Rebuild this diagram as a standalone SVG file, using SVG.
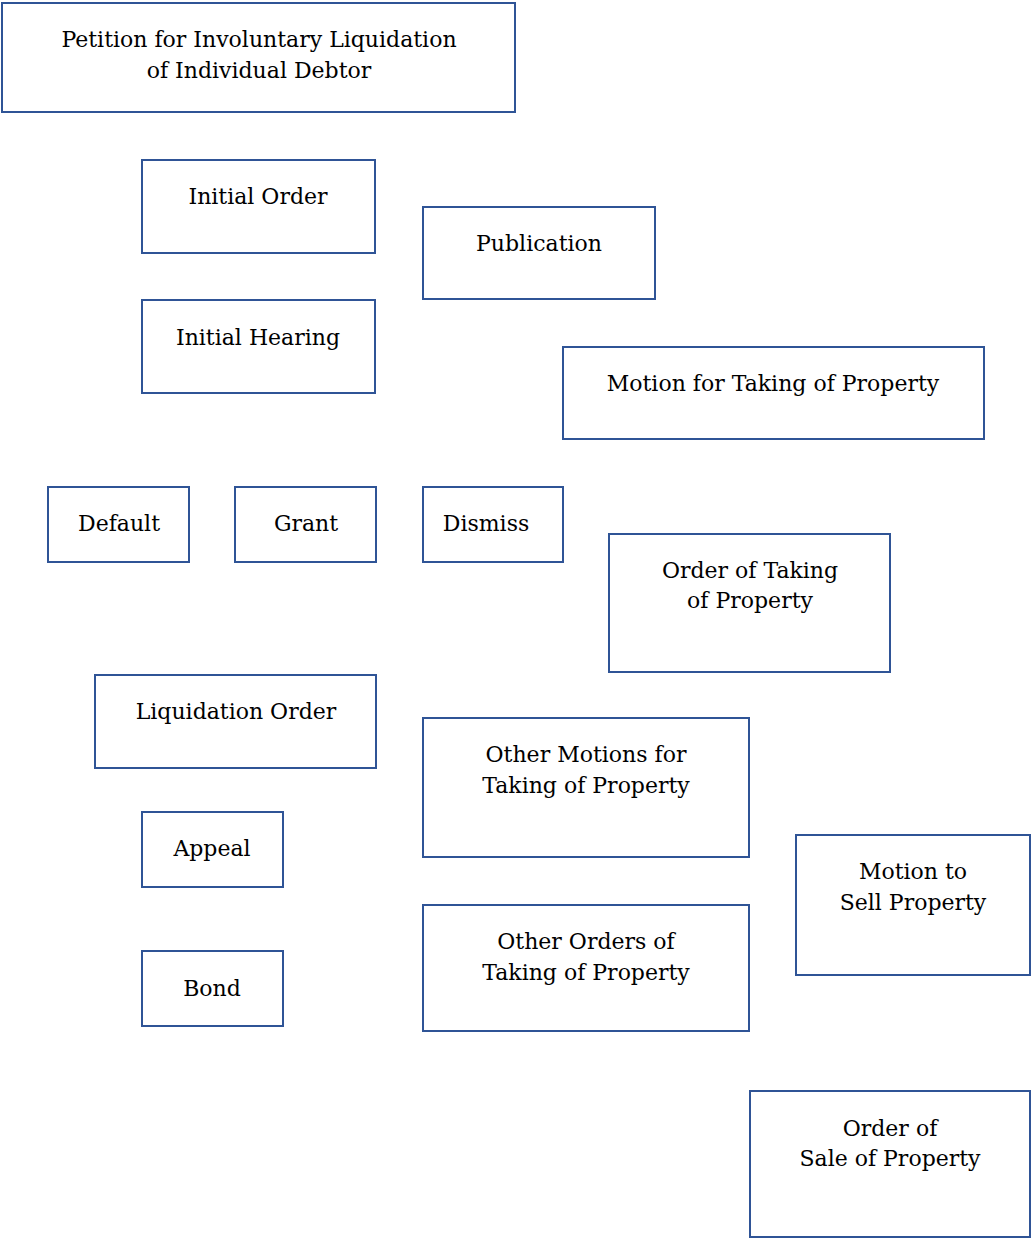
<svg xmlns="http://www.w3.org/2000/svg" width="1031" height="1239" viewBox="0 0 1031 1239">
  <style>
    .box { fill: #ffffff; stroke: #2f5496; stroke-width: 2; }
    .lbl { font-family: "DejaVu Serif", "Liberation Serif", serif; font-size: 22px; fill: #000000; text-anchor: middle; }
  </style>
  <rect width="1031" height="1239" fill="#ffffff"/>
  <g id="connectors"/>
  <g id="petition">
    <rect class="box" x="2" y="3" width="513" height="109"/>
    <text class="lbl" x="259" y="47">Petition for Involuntary Liquidation</text>
    <text class="lbl" x="259" y="78">of Individual Debtor</text>
  </g>
  <g id="initial-order">
    <rect class="box" x="142" y="160" width="233" height="93"/>
    <text class="lbl" x="258" y="204">Initial Order</text>
  </g>
  <g id="publication">
    <rect class="box" x="423" y="207" width="232" height="92"/>
    <text class="lbl" x="539" y="251">Publication</text>
  </g>
  <g id="initial-hearing">
    <rect class="box" x="142" y="300" width="233" height="93"/>
    <text class="lbl" x="258" y="345">Initial Hearing</text>
  </g>
  <g id="motion-taking">
    <rect class="box" x="563" y="347" width="421" height="92"/>
    <text class="lbl" x="773" y="391">Motion for Taking of Property</text>
  </g>
  <g id="default">
    <rect class="box" x="48" y="487" width="141" height="75"/>
    <text class="lbl" x="119" y="531">Default</text>
  </g>
  <g id="grant">
    <rect class="box" x="235" y="487" width="141" height="75"/>
    <text class="lbl" x="306" y="531">Grant</text>
  </g>
  <g id="dismiss">
    <rect class="box" x="423" y="487" width="140" height="75"/>
    <text class="lbl" x="486" y="531">Dismiss</text>
  </g>
  <g id="order-taking">
    <rect class="box" x="609" y="534" width="281" height="138"/>
    <text class="lbl" x="750" y="578">Order of Taking</text>
    <text class="lbl" x="750" y="608">of Property</text>
  </g>
  <g id="liquidation-order">
    <rect class="box" x="95" y="675" width="281" height="93"/>
    <text class="lbl" x="236" y="719">Liquidation Order</text>
  </g>
  <g id="other-motions">
    <rect class="box" x="423" y="718" width="326" height="139"/>
    <text class="lbl" x="586" y="762">Other Motions for</text>
    <text class="lbl" x="586" y="793">Taking of Property</text>
  </g>
  <g id="appeal">
    <rect class="box" x="142" y="812" width="141" height="75"/>
    <text class="lbl" x="212" y="856">Appeal</text>
  </g>
  <g id="motion-sell">
    <rect class="box" x="796" y="835" width="234" height="140"/>
    <text class="lbl" x="913" y="879">Motion to</text>
    <text class="lbl" x="913" y="910">Sell Property</text>
  </g>
  <g id="bond">
    <rect class="box" x="142" y="951" width="141" height="75"/>
    <text class="lbl" x="212" y="996">Bond</text>
  </g>
  <g id="other-orders">
    <rect class="box" x="423" y="905" width="326" height="126"/>
    <text class="lbl" x="586" y="949">Other Orders of</text>
    <text class="lbl" x="586" y="980">Taking of Property</text>
  </g>
  <g id="order-sale">
    <rect class="box" x="750" y="1091" width="280" height="146"/>
    <text class="lbl" x="890" y="1136">Order of</text>
    <text class="lbl" x="890" y="1166">Sale of Property</text>
  </g>
</svg>
